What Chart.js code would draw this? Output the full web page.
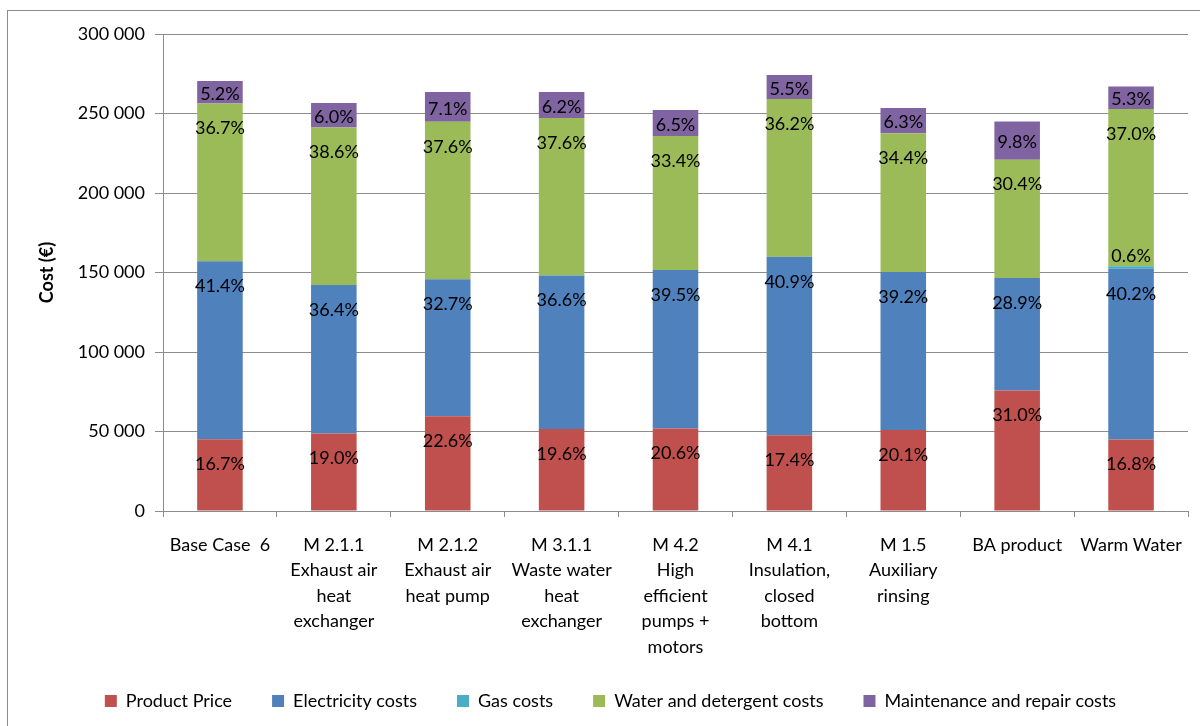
<!DOCTYPE html>
<html>
<head>
<meta charset="utf-8">
<script src="https://cdn.jsdelivr.net/npm/chart.js@4"></script>
<style>
html,body{margin:0;padding:0;background:#fff;}
#wrap{position:absolute;left:0;top:0;width:1200px;height:726px;}
</style>
</head>
<body>
<div id="wrap"><canvas id="c" width="1200" height="726"></canvas></div>
<script>
const categories = [
  ["Base Case  6"],
  ["M 2.1.1", "Exhaust air", "heat", "exchanger"],
  ["M 2.1.2", "Exhaust air", "heat pump"],
  ["M 3.1.1", "Waste water", "heat", "exchanger"],
  ["M 4.2", "High", "efficient", "pumps +", "motors"],
  ["M 4.1", "Insulation,", "closed", "bottom"],
  ["M 1.5", "Auxiliary", "rinsing"],
  ["BA product"],
  ["Warm Water"]
];
const seriesNames = ["Product Price", "Electricity costs", "Gas costs", "Water and detergent costs", "Maintenance and repair costs"];
const seriesColors = ["#C0504D", "#4F81BD", "#4BACC6", "#9BBB59", "#8064A2"];

const productPrice   = [45160, 48750, 59550, 51650, 51950, 47710, 50950, 75860, 44910];
const electricity    = [111950, 93400, 86160, 96440, 99620, 112150, 99370, 70720, 107450];
const gas            = [0, 0, 0, 0, 0, 0, 0, 0, 1600];
const waterDetergent = [99240, 99050, 99080, 99080, 84230, 99260, 87200, 74390, 98900];
const maintenance    = [14060, 15400, 18710, 16340, 16390, 15080, 15970, 23980, 14170];

const pctProduct     = ["16.7%", "19.0%", "22.6%", "19.6%", "20.6%", "17.4%", "20.1%", "31.0%", "16.8%"];
const pctElectricity = ["41.4%", "36.4%", "32.7%", "36.6%", "39.5%", "40.9%", "39.2%", "28.9%", "40.2%"];
const pctGas         = ["", "", "", "", "", "", "", "", "0.6%"];
const pctWater       = ["36.7%", "38.6%", "37.6%", "37.6%", "33.4%", "36.2%", "34.4%", "30.4%", "37.0%"];
const pctMaint       = ["5.2%", "6.0%", "7.1%", "6.2%", "6.5%", "5.5%", "6.3%", "9.8%", "5.3%"];

const yTicks = [0, 50000, 100000, 150000, 200000, 250000, 300000];

const FONT = "Lato, 'Open Sans', sans-serif";
const seriesData = [productPrice, electricity, gas, waterDetergent, maintenance];
const seriesPct = [pctProduct, pctElectricity, pctGas, pctWater, pctMaint];

const borderPlugin = {
  id: 'outerBorder',
  beforeDraw(chart) {
    const ctx = chart.ctx;
    ctx.save();
    ctx.fillStyle = '#fff';
    ctx.fillRect(0, 0, chart.width, chart.height);
    ctx.strokeStyle = '#8c8c8c';
    ctx.lineWidth = 1;
    ctx.strokeRect(7.5, 10.5, 1300, 900);
    ctx.restore();
  }
};

const legendShift = {
  id: 'legendShift',
  afterLayout(chart) {
    const lg = chart.legend;
    if (lg) { lg.top -= 9; lg.bottom -= 9; }
  }
};

const labelPlugin = {
  id: 'pctLabels',
  afterDatasetsDraw(chart) {
    const ctx = chart.ctx;
    ctx.save();
    ctx.font = "18px " + FONT;
    ctx.fillStyle = '#000';
    ctx.textAlign = 'center';
    ctx.textBaseline = 'middle';
    chart.data.datasets.forEach((ds, di) => {
      const meta = chart.getDatasetMeta(di);
      meta.data.forEach((bar, i) => {
        const txt = seriesPct[di][i];
        if (!txt) return;
        const top = Math.min(bar.y, bar.base);
        const h = Math.abs(bar.base - bar.y);
        let cy;
        if (h < 10) cy = top - 10;
        else cy = top + Math.min(25, h / 2 + 2);
        ctx.fillText(txt, bar.x, cy);
      });
    });
    ctx.restore();
  }
};

new Chart(document.getElementById('c'), {
  type: 'bar',
  data: {
    labels: categories,
    datasets: seriesNames.map((n, k) => ({
      label: n,
      data: seriesData[k],
      backgroundColor: seriesColors[k],
      borderWidth: 0,
      barPercentage: 1.0,
      categoryPercentage: 0.4
    }))
  },
  options: {
    responsive: false,
    animation: false,
    devicePixelRatio: 1,
    layout: { padding: { left: 33, top: 34, right: 12, bottom: 6 } },
    plugins: {
      legend: {
        position: 'bottom',
        maxHeight: 59,
        labels: {
          font: { family: FONT, size: 18 },
          color: '#000',
          boxWidth: 12,
          boxHeight: 12,
          padding: 40
        }
      },
      tooltip: { enabled: false }
    },
    scales: {
      x: {
        stacked: true,
        grid: { display: true, drawOnChartArea: false, offset: true, color: '#8c8c8c', tickLength: 6, tickColor: '#8c8c8c' },
        border: { color: '#8c8c8c' },
        ticks: { font: { family: FONT, size: 18, lineHeight: 1.42 }, color: '#000', maxRotation: 0, autoSkip: false, padding: 15 },
        afterFit(scale) { scale.height = 150; }
      },
      y: {
        stacked: true,
        min: 0,
        max: 300000,
        afterBuildTicks(scale) { scale.ticks = yTicks.map(v => ({ value: v })); },
        grid: { color: '#8c8c8c', tickLength: 8, tickColor: '#8c8c8c' },
        border: { color: '#8c8c8c' },
        ticks: {
          font: { family: FONT, size: 18 },
          color: '#000',
          padding: 10,
          callback: v => String(v).replace(/\B(?=(\d{3})+(?!\d))/g, ' ')
        },
        title: { display: true, text: 'Cost (€)', font: { family: FONT, size: 18, weight: 'bold' }, color: '#000', padding: { top: 3, bottom: 4 } },
        afterFit(scale) { scale.width = 130; }
      }
    }
  },
  plugins: [borderPlugin, legendShift, labelPlugin]
});
</script>
</body>
</html>
